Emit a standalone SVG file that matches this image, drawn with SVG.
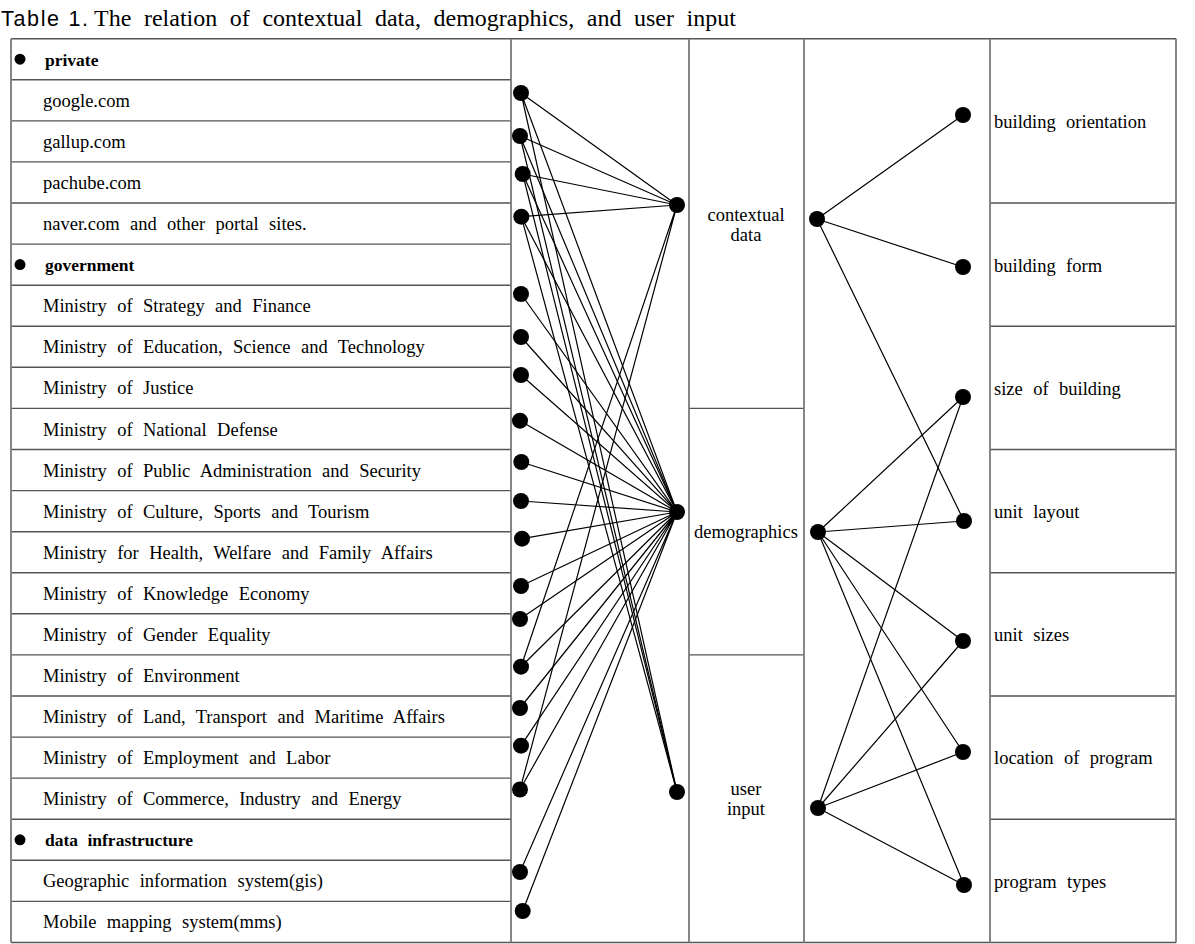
<svg xmlns="http://www.w3.org/2000/svg" width="1195" height="944" viewBox="0 0 1195 944">
<style>
.t{font-family:"Liberation Serif","Times New Roman",serif;font-size:18.5px;fill:#000;word-spacing:5.8px}
.b{font-family:"Liberation Serif","Times New Roman",serif;font-size:17.5px;font-weight:bold;fill:#000;word-spacing:5px}
.mid{text-anchor:middle}
.grid{stroke:#555;stroke-width:1.4;fill:none}
.vgrid{stroke:#7a7a7a;stroke-width:1.8;fill:none}
.c{stroke:#000;stroke-width:1.2;fill:none}
.dot{fill:#000}
</style>
<rect width="1195" height="944" fill="#fff"/>
<g id="title">
<text x="1" y="26" font-family="'Liberation Sans',Arial,sans-serif" font-size="21.5" textLength="87" lengthAdjust="spacing">Table 1.</text>
<text x="94" y="26" font-family="'Liberation Serif','Times New Roman',serif" font-size="24" word-spacing="6.6">The relation of contextual data, demographics, and user input</text>
</g>
<g id="table">
<g class="grid">
<path d="M11 79.8H511M11 120.9H511M11 161.9H511M11 203H511M11 244.1H511M11 285.2H511M11 326.3H511M11 367.3H511M11 408.4H511M11 449.5H511M11 490.6H511M11 531.7H511M11 572.7H511M11 613.8H511M11 654.9H511M11 696H511M11 737.1H511M11 778.1H511M11 819.2H511M11 860.3H511M11 901.4H511"/>
<path d="M689 408.4H804M689 654.9H804"/>
<path d="M990 203H1176M990 326.3H1176M990 449.5H1176M990 572.7H1176M990 696H1176M990 819.2H1176"/>
<path d="M11 38.7H1176M11 942.5H1176"/>
</g>
<g class="vgrid">
<path d="M11 38.7V942.5M511 38.7V942.5M689 38.7V942.5M804 38.7V942.5M990 38.7V942.5M1176 38.7V942.5"/>
</g>
</g>
<g id="sources">
<circle cx="20" cy="59.2" r="5.5" class="dot"/><text x="45" y="65.5" class="b">private</text>
<text x="43" y="106.8" class="t">google.com</text>
<text x="43" y="147.9" class="t">gallup.com</text>
<text x="43" y="189" class="t">pachube.com</text>
<text x="43" y="230.1" class="t">naver.com and other portal sites.</text>
<circle cx="20" cy="264.6" r="5.5" class="dot"/><text x="45" y="270.9" class="b">government</text>
<text x="43" y="312.2" class="t">Ministry of Strategy and Finance</text>
<text x="43" y="353.3" class="t">Ministry of Education, Science and Technology</text>
<text x="43" y="394.4" class="t">Ministry of Justice</text>
<text x="43" y="435.5" class="t">Ministry of National Defense</text>
<text x="43" y="476.5" class="t">Ministry of Public Administration and Security</text>
<text x="43" y="517.6" class="t">Ministry of Culture, Sports and Tourism</text>
<text x="43" y="558.7" class="t">Ministry for Health, Welfare and Family Affairs</text>
<text x="43" y="599.8" class="t">Ministry of Knowledge Economy</text>
<text x="43" y="640.9" class="t">Ministry of Gender Equality</text>
<text x="43" y="681.9" class="t">Ministry of Environment</text>
<text x="43" y="723" class="t">Ministry of Land, Transport and Maritime Affairs</text>
<text x="43" y="764.1" class="t">Ministry of Employment and Labor</text>
<text x="43" y="805.2" class="t">Ministry of Commerce, Industry and Energy</text>
<circle cx="20" cy="839.8" r="5.5" class="dot"/><text x="45" y="846.1" class="b">data infrastructure</text>
<text x="43" y="887.3" class="t">Geographic information system(gis)</text>
<text x="43" y="928.4" class="t">Mobile mapping system(mms)</text>
</g>
<g id="categories">
<text x="746" y="221" class="t mid">contextual</text>
<text x="746" y="241" class="t mid">data</text>
<text x="746" y="538" class="t mid">demographics</text>
<text x="746" y="795" class="t mid">user</text>
<text x="746" y="815" class="t mid">input</text>
</g>
<g id="outputs">
<text x="994" y="128" class="t">building orientation</text>
<text x="994" y="272" class="t">building form</text>
<text x="994" y="395" class="t">size of building</text>
<text x="994" y="518" class="t">unit layout</text>
<text x="994" y="641" class="t">unit sizes</text>
<text x="994" y="764" class="t">location of program</text>
<text x="994" y="888" class="t">program types</text>
</g>
<g id="connectors" class="c">
<path d="M521 93L677 205M521 93L677 512M521 93L677 792"/>
<path d="M520 136L677 205M520 136L677 512M520 136L677 792"/>
<path d="M522.7 174L677 205M522.7 174L677 512M522.7 174L677 792"/>
<path d="M521.3 216.7L677 205M521.3 216.7L677 512M521.3 216.7L677 792"/>
<path d="M521 294L677 512M521 337L677 512M521 375L677 512M520 420.7L677 512M521.3 462L677 512M521 501L677 512M522 538.7L677 512M521 586L677 512M520 619L677 512M521 666.7L677 512M520 708L677 512M521 745.7L677 512M520 789.5L677 512M520 872L677 512M522.7 911L677 512"/>
<path d="M521 666.7L677 205M520 789.5L677 205"/>
<path d="M817 219L963 115M817 219L963 267M817 219L964 521"/>
<path d="M818 532L963 397M818 532L964 521M818 532L963 641M818 532L963 752M818 532L964 885"/>
<path d="M818 808L963 397M818 808L963 641M818 808L963 752M818 808L964 885"/>
</g>
<g id="dots" class="dot">
<circle cx="521" cy="93" r="8"/><circle cx="520" cy="136" r="8"/><circle cx="522.7" cy="174" r="8"/><circle cx="521.3" cy="216.7" r="8"/>
<circle cx="521" cy="294" r="8"/><circle cx="521" cy="337" r="8"/><circle cx="521" cy="375" r="8"/><circle cx="520" cy="420.7" r="8"/>
<circle cx="521.3" cy="462" r="8"/><circle cx="521" cy="501" r="8"/><circle cx="522" cy="538.7" r="8"/><circle cx="521" cy="586" r="8"/>
<circle cx="520" cy="619" r="8"/><circle cx="521" cy="666.7" r="8"/><circle cx="520" cy="708" r="8"/><circle cx="521" cy="745.7" r="8"/>
<circle cx="520" cy="789.5" r="8"/><circle cx="520" cy="872" r="8"/><circle cx="522.7" cy="911" r="8"/>
<circle cx="677" cy="205" r="8"/><circle cx="677" cy="512" r="8"/><circle cx="677" cy="792" r="8"/>
<circle cx="817" cy="219" r="8"/><circle cx="818" cy="532" r="8"/><circle cx="818" cy="808" r="8"/>
<circle cx="963" cy="115" r="8"/><circle cx="963" cy="267" r="8"/><circle cx="963" cy="397" r="8"/><circle cx="964" cy="521" r="8"/>
<circle cx="963" cy="641" r="8"/><circle cx="963" cy="752" r="8"/><circle cx="964" cy="885" r="8"/>
</g>
</svg>
